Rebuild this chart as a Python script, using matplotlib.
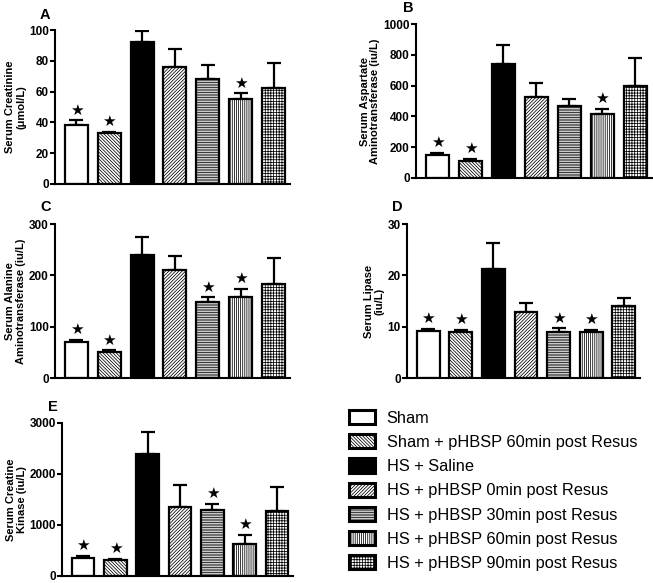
import matplotlib
matplotlib.use("Agg")
import matplotlib.pyplot as plt
from matplotlib.patches import Patch
import numpy as np

plt.rcParams['font.family'] = ['Liberation Sans', 'DejaVu Sans']
plt.rcParams['hatch.linewidth'] = 0.55

groups = ["Sham", "Sham + pHBSP 60min post Resus", "HS + Saline",
          "HS + pHBSP 0min post Resus", "HS + pHBSP 30min post Resus",
          "HS + pHBSP 60min post Resus", "HS + pHBSP 90min post Resus"]
facecolors = ["white", "white", "black", "white", "white", "white", "white"]
hatches = [None, "\\" * 10, None, "/" * 10, "-" * 10, "|" * 8, "+" * 6]

creat = [38, 33, 92.5, 76, 68.3, 55.3, 62.6]
creat_err = [3.3, 1.0, 6.9, 12, 8.8, 3.5, 16]
ast = [150, 112, 743, 525, 469, 415, 596]
ast_err = [15, 11, 121, 95, 47, 36, 182]
alt = [70, 51, 240, 210, 148, 158.5, 182.6]
alt_err = [4, 3, 34, 28, 9, 15, 51]
lipase = [9.2, 9.0, 21.3, 12.9, 9.0, 8.9, 14.05]
lipase_err = [0.4, 0.4, 5.0, 1.7, 0.7, 0.5, 1.5]
ck = [343, 311, 2398, 1348, 1283, 629, 1264]
ck_err = [46, 19, 428, 434, 130, 175, 473]

stars_A = [0, 1, 5]
stars_B = [0, 1, 5]
stars_C = [0, 1, 4, 5]
stars_D = [0, 1, 4, 5]
stars_E = [0, 1, 4, 5]

panels = [
    dict(letter="A", vals=creat, err=creat_err, stars=stars_A, ymax=100, ticks=[0, 20, 40, 60, 80, 100],
         ylabel="Serum Creatinine\n(\u03bcmol/L)", rect=[0.0842, 0.6844, 0.360, 0.2641], lpos=(40, 15)),
    dict(letter="B", vals=ast, err=ast_err, stars=stars_B, ymax=1000, ticks=[0, 200, 400, 600, 800, 1000],
         ylabel="Serum Aspartate\nAminotransferase (iu/L)", rect=[0.637, 0.6947, 0.361, 0.264], lpos=(403, 8)),
    dict(letter="C", vals=alt, err=alt_err, stars=stars_C, ymax=300, ticks=[0, 100, 200, 300],
         ylabel="Serum Alanine\nAminotransferase (iu/L)", rect=[0.0842, 0.3516, 0.360, 0.264], lpos=(40, 207)),
    dict(letter="D", vals=lipase, err=lipase_err, stars=stars_D, ymax=30, ticks=[0, 10, 20, 30],
         ylabel="Serum Lipase\n(iu/L)", rect=[0.6233, 0.3516, 0.357, 0.264], lpos=(392, 207)),
    dict(letter="E", vals=ck, err=ck_err, stars=stars_E, ymax=3000, ticks=[0, 1000, 2000, 3000],
         ylabel="Serum Creatine\nKinase (iu/L)", rect=[0.095, 0.0125, 0.354, 0.262], lpos=(48, 407)),
]

W, H = 653, 583
fig = plt.figure(figsize=(W / 100, H / 100), dpi=100)

x = np.arange(len(groups))
for p in panels:
    ax = fig.add_axes(p["rect"])
    for i in range(len(groups)):
        ax.bar(x[i], p["vals"][i], width=0.7, color=facecolors[i], edgecolor="black",
               linewidth=1.6, hatch=hatches[i], zorder=2)
    ax.errorbar(x, p["vals"], yerr=[np.zeros(len(x)), p["err"]], fmt="none",
                ecolor="black", elinewidth=1.6, capsize=5, capthick=1.6, zorder=1)
    for s in p["stars"]:
        top = p["vals"][s] + p["err"][s]
        ax.annotate("\u2605", (x[s], top), xytext=(0, 2), textcoords="offset points",
                    ha="center", va="bottom", fontsize=11, family=["DejaVu Sans"])
    ax.set_xlim(-0.65, 6.5)
    ax.set_ylim(0, p["ymax"])
    ax.set_yticks(p["ticks"])
    ax.set_xticks([])
    for sp in ["top", "right"]:
        ax.spines[sp].set_visible(False)
    for sp in ["left", "bottom"]:
        ax.spines[sp].set_linewidth(1.5)
    ax.tick_params(axis="y", direction="out", length=3.5, width=1.5, labelsize=8.5, pad=1)
    for lbl in ax.get_yticklabels():
        lbl.set_fontweight("bold")
    ax.set_ylabel(p["ylabel"], fontsize=8, fontweight="bold", labelpad=2, linespacing=1.1)
    lx, ly = p["lpos"]
    fig.text(lx / W, 1 - ly / H, p["letter"], fontsize=10.5, fontweight="bold", ha="left", va="center")

handles = [Patch(facecolor=facecolors[i], edgecolor="black", linewidth=2.2, hatch=hatches[i])
           for i in range(len(groups))]
fig.legend(handles, groups, loc="upper left", bbox_to_anchor=(349 / W, 1 - 410 / H),
           frameon=False, fontsize=11.8, handlelength=1.6, handleheight=0.95,
           labelspacing=0.52, handletextpad=0.7, borderaxespad=0, borderpad=0)

fig.savefig("out.png", dpi=100)
